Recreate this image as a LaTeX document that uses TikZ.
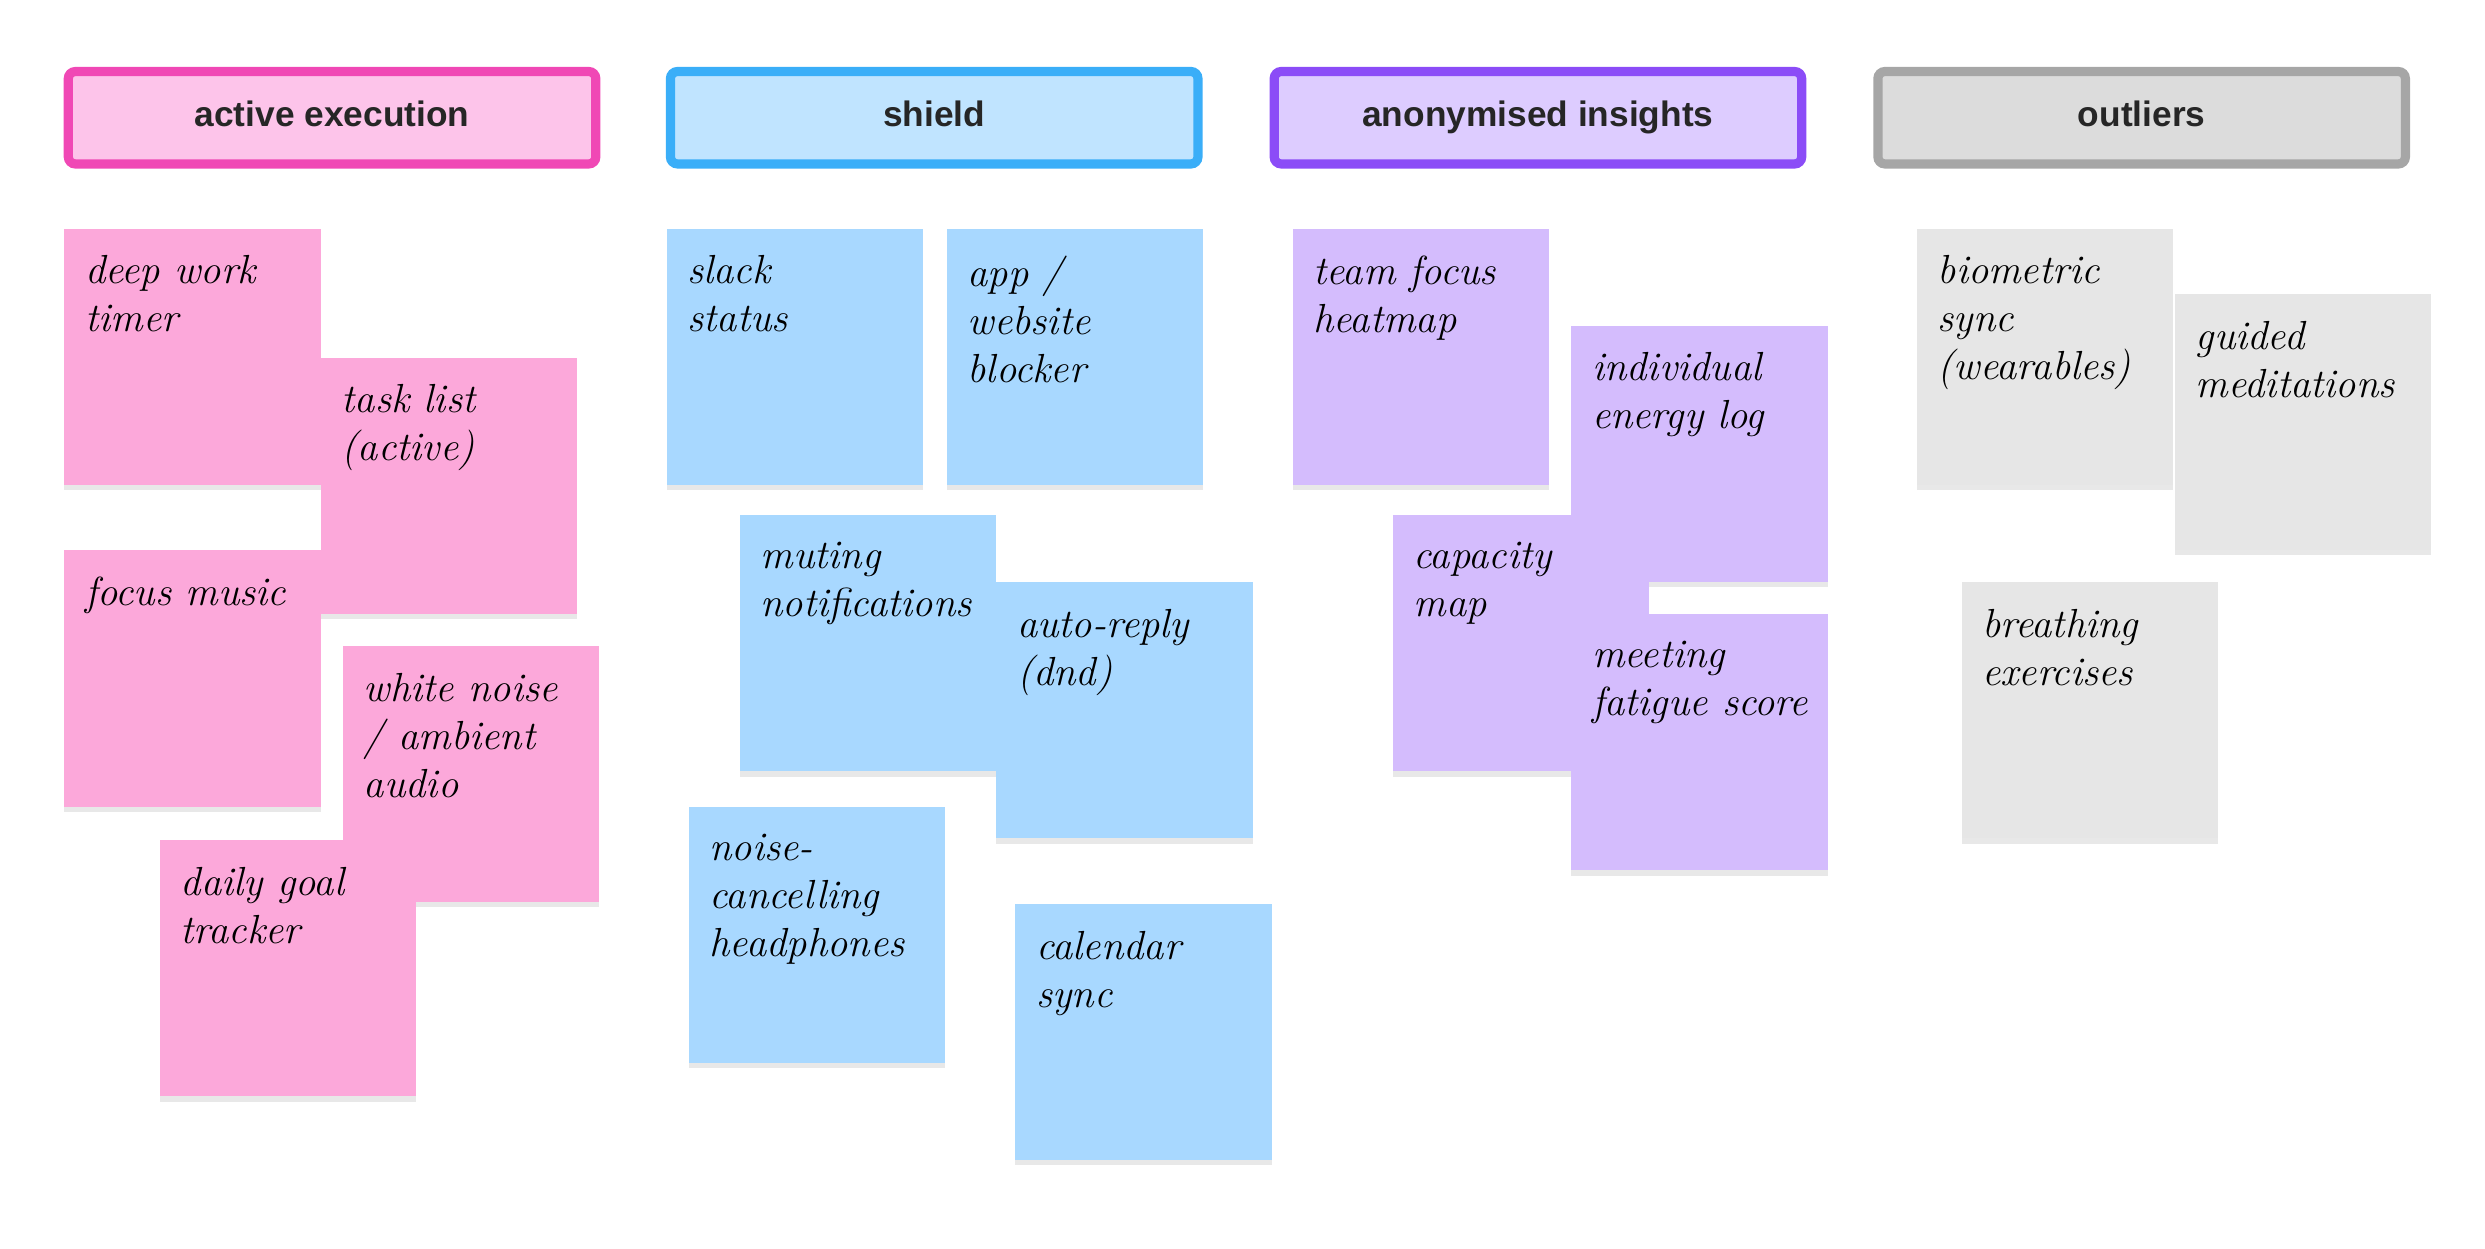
\documentclass[tikz,border=0pt]{standalone}
\usepackage{fontspec}
\setsansfont{Liberation Sans}
\usepackage{tikz}
\usetikzlibrary{shadows}
\definecolor{pinkB}{HTML}{F048B5}\definecolor{pinkH}{HTML}{FDC4EA}\definecolor{pinkS}{HTML}{FCA8DA}
\definecolor{blueB}{HTML}{3AAEF8}\definecolor{blueH}{HTML}{C0E4FF}\definecolor{blueS}{HTML}{A8D8FF}
\definecolor{purpB}{HTML}{8B4CF7}\definecolor{purpH}{HTML}{DDCCFF}\definecolor{purpS}{HTML}{D4BCFD}
\definecolor{grayB}{HTML}{A6A6A6}\definecolor{grayH}{HTML}{DCDCDC}\definecolor{grayS}{HTML}{E6E6E6}
\tikzset{
  header/.style={draw=#1B,fill=#1H,line width=2.6pt,rounded corners=2pt,anchor=north west,
    minimum width=5.25cm,minimum height=0.92cm,text height=1.6ex,text depth=0.4ex,
    font=\sffamily\bfseries\fontsize{10}{12}\selectfont,text=black!85},
  sticky/.style={fill=#1S,anchor=north west,minimum size=2.55cm,inner sep=0pt,
    drop shadow={opacity=0.18,shadow xshift=0pt,shadow yshift=-1.5pt}},
  note/.style={anchor=north west,align=left,inner sep=0pt,font=\itshape\fontsize{11.5}{13.6}\selectfont}
}
\begin{document}
\begin{tikzpicture}[x=0.01585cm,y=-0.01585cm]
\useasboundingbox (0,0) rectangle (1560,784);
%headers
\node[header=pink] (hactive) at (40,42) {active execution};
\node[header=blue] (hshield) at (418,42) {shield};
\node[header=purp] (hinsight) at (797,42) {anonymised insights};
\node[header=gray] (houtlier) at (1176,42) {outliers};
%active execution
\node[sticky=pink] (deepwork) at (40,143) {};
\node[note] at (53,160) {deep work\\timer};
\node[sticky=pink] (tasklist) at (201,224) {};
\node[note] at (214,241) {task list\\(active)};
\node[sticky=pink] (music) at (40,345) {};
\node[note] at (53,362) {focus music};
\node[sticky=pink] (noise) at (215,405) {};
\node[note] at (228,422) {white noise\\/ ambient\\audio};
\node[sticky=pink] (goal) at (100,527) {};
\node[note] at (113,544) {daily goal\\tracker};
%shield
\node[sticky=blue] (slack) at (418,143) {};
\node[note] at (431,160) {slack\\status};
\node[sticky=blue] (blocker) at (594,143) {};
\node[note] at (607,160) {app /\\website\\blocker};
\node[sticky=blue] (muting) at (464,323) {};
\node[note] at (477,340) {muting\\notifications};
\node[sticky=blue] (reply) at (625,365) {};
\node[note] at (638,382) {auto-reply\\(dnd)};
\node[sticky=blue] (phones) at (432,506) {};
\node[note] at (445,523) {noise-\\cancelling\\headphones};
\node[sticky=blue] (calendar) at (637,567) {};
\node[note] at (650,584) {calendar\\sync};
%anonymised insights
\node[sticky=purp] (heatmap) at (811,143) {};
\node[note] at (824,160) {team focus\\heatmap};
\node[sticky=purp] (energy) at (986,204) {};
\node[note] at (999,221) {individual\\energy log};
\node[sticky=purp] (capacity) at (874,323) {};
\node[note] at (887,340) {capacity\\map};
\node[sticky=purp] (fatigue) at (986,385) {};
\node[note] at (999,402) {meeting\\fatigue score};
%outliers
\node[sticky=gray] (biometric) at (1203,143) {};
\node[note] at (1216,160) {biometric\\sync\\(wearables)};
\node[sticky=gray] (guided) at (1365,184) {};
\node[note] at (1378,201) {guided\\meditations};
\node[sticky=gray] (breathing) at (1231,365) {};
\node[note] at (1244,382) {breathing\\exercises};
\end{tikzpicture}
\end{document}
